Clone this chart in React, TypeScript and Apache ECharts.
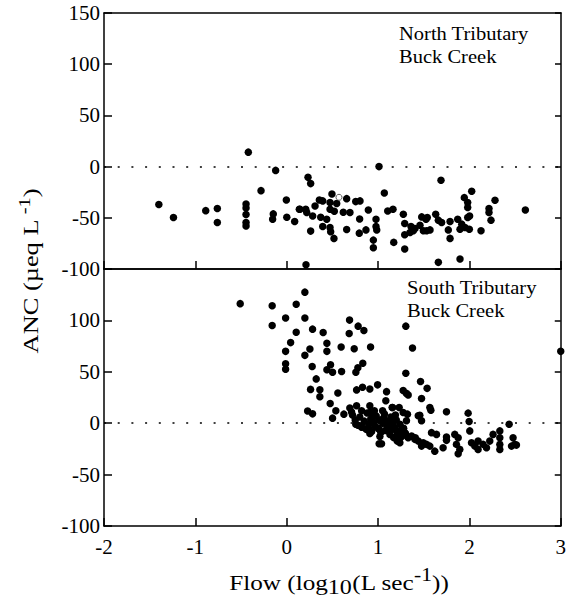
import React, { useEffect, useRef } from "react";
import * as echarts from "echarts";

// x ticks (log10 flow) and y ticks (ANC)
const xTicks = [-2, -1, 0, 1, 2, 3];
const yTicks = [-100, -50, 0, 50, 100, 150];
const panelTitles = ["North Tributary\nBuck Creek", "South Tributary\nBuck Creek"];

// North Tributary: [log10 flow, ANC]
const northPoints: number[][] = [
  [-1.40, -37], [-1.24, -49.7], [-0.887, -43], [-0.76, -41], [-0.76, -54.6],
  [-0.446, -36.5], [-0.446, -40.4], [-0.446, -46.8], [-0.446, -54.6], [-0.446, -57.9],
  [-0.421, 14.1], [-0.282, -23.5], [-0.148, -46.2], [-0.155, -51.4], [-0.122, -3.7],
  [-0.005, -32.6], [0.0, -49.4], [0.086, -53.6], [0.137, -41.6],
  [1.009, 0], [0.232, -10.5], [0.261, -16.6], [1.067, -25.8], [0.494, -26.7],
  [0.655, -31.3], [0.356, -32.6], [0.393, -33.5], [0.754, -34.2], [0.801, -33.5],
  [0.473, -35.1], [0.546, -36.1], [0.309, -38.4], [0.144, -41.6], [0.207, -41.6],
  [0.473, -41.6], [0.52, -43.6], [0.618, -44.6], [0.691, -44.8], [0.892, -42.3],
  [1.104, -43.3], [1.162, -41.6], [0.218, -44.8], [0.283, -48.2], [0.371, -49.4],
  [0.437, -51.4], [0.797, -51.1], [0.976, -51.4], [1.275, -46.5], [0.393, -58.5],
  [0.473, -59.4], [0.48, -63.7], [0.516, -70.1], [0.261, -63], [0.655, -61.4],
  [0.793, -65], [0.866, -61.8], [0.976, -58.5], [0.984, -61.8], [0.947, -71.8],
  [0.947, -79.3], [1.17, -74], [1.29, -55.5], [1.29, -66.6], [1.29, -80.5],
  [1.359, -58.5], [1.403, -60.4], [1.384, -62.7], [1.348, -64.3], [1.457, -57.2],
  [1.523, -51.4], [1.537, -49.7], [1.494, -62.7], [1.53, -62.7], [0.21, -95.8],
  [1.687, -13.4], [2.023, -24.1], [1.942, -30.3], [1.979, -35.1], [1.979, -40],
  [2.278, -32.9], [2.212, -41], [2.212, -44.8], [2.234, -52.3], [2.61, -42.3],
  [2.0, -48.2], [1.979, -49.7], [1.629, -46.5], [1.476, -49.1], [1.658, -52.3],
  [1.694, -54.6], [1.786, -53.6], [1.87, -51.4], [1.914, -56.2], [1.95, -59.4],
  [1.895, -61.1], [1.997, -61.1], [2.125, -62.7], [1.767, -61.8], [1.786, -70.1],
  [1.567, -61.8], [1.658, -93.5], [1.895, -90.3],
];
const northOpenPoints: number[][] = [[0.571, -30]];

// South Tributary: [log10 flow, ANC]
const southPoints: number[][] = [
  [-0.509, 116.3], [-0.159, 114.3], [-0.159, 95.1], [-0.012, 102.3], [-0.012, 69.9],
  [-0.012, 57.8], [-0.012, 52.5], [0.043, 78.4], [0.104, 115.7], [0.104, 88.5],
  [0.199, 127.5], [0.199, 102.3], [0.199, 66], [0.283, 91.5], [0.254, 72.2],
  [0.279, 55.2], [0.323, 43.1], [0.261, 32.9], [0.229, 11.8], [0.283, 9.1],
  [0.399, 88.2], [0.688, 100.3], [0.684, 87.3], [0.782, 94.4], [0.845, 90.2],
  [0.44, 77.7], [0.44, 69.9], [0.596, 74.1], [0.739, 72.5], [0.918, 74.1],
  [0.48, 56.9], [0.44, 52], [0.502, 49.6], [0.601, 50.3], [0.779, 53.9],
  [0.757, 49.6], [0.833, 58.4], [0.363, 32.6], [0.363, 25.8], [0.56, 29.4],
  [0.476, 19.2], [0.765, 32.4], [0.83, 34.9], [0.91, 33.3], [0.995, 37.3],
  [1.093, 30.7], [1.085, 21.9], [0.538, 12.1], [0.502, 4.9], [0.626, 8.8],
  [0.691, 14.7], [0.765, 17], [0.91, 17], [0.91, 10.4], [1.159, 15.3],
  [1.038, -20], [1.239, -19],
  [1.304, 94.4], [1.377, 73.1], [1.304, 48.6], [1.465, 40.5], [1.537, 33.9],
  [1.476, 24.1], [1.567, 15.3], [1.578, 12.7], [1.749, 11.1], [1.986, 9.8],
  [1.997, 1.6], [2.435, -1], [1.311, 29], [1.33, 27.5], [1.275, 31.7],
  [1.154, 15.3], [1.231, 15.3], [1.322, 8.8], [1.457, 7.8], [1.476, 2.3],
  [1.749, -13.4], [1.275, 10.4], [1.311, 2.3], [1.44, 7.2],
  [1.184, -4.3], [1.239, -7.5], [1.293, -9.2], [1.33, -14.1], [1.367, -12.5],
  [1.403, -15.7], [1.44, -17.4], [1.476, -22.3], [1.494, -19], [1.53, -20.6],
  [1.567, -22.3], [1.585, -9.2], [1.64, -10.9], [1.621, -27.2], [1.712, -23.9],
  [1.749, -16.7], [1.84, -10.9], [1.877, -14.1], [1.858, -20.6], [1.895, -25.5],
  [1.877, -29.8], [2.004, -7.5], [2.023, -19], [2.059, -22.3], [2.095, -25.5],
  [2.095, -17.4], [2.15, -20.6], [2.187, -23.9], [2.223, -17.4], [2.259, -10.9],
  [2.333, -7.5], [2.333, -14.1], [2.333, -20.6], [2.333, -25.5], [2.478, -14.1],
  [2.461, -22.3], [2.497, -20.6], [2.515, -21.3],
  [0.756, -1], [0.815, -2.6], [0.894, -4.3], [1.012, -5.9], [1.012, -20],
  [1.131, -7.5], [1.21, -10.8], [1.21, -17.4], [1.408, -14.1],
  [0.72, 8], [0.75, 3], [0.78, -2], [0.80, 6], [0.82, -4], [0.85, 2], [0.87, -6],
  [0.88, 10], [0.90, -1], [0.92, 4], [0.93, -8], [0.95, 1], [0.97, -3], [0.98, 7],
  [1.00, -5], [1.01, 3], [1.03, -9], [1.05, 0], [1.06, 5], [1.08, -7], [1.10, -2],
  [1.11, 2], [1.13, -11], [1.15, -4], [1.16, 1], [1.18, -6], [1.20, 3], [1.22, -8],
  [1.24, -1], [1.26, -13], [1.28, -5], [1.30, -10], [1.19, 8], [1.07, 9], [0.96, 12],
  [1.14, 6], [1.02, -13], [0.91, -10], [1.17, -14], [1.23, -16],
  [0.71, 11], [0.82, 12], [0.95, 10], [1.05, 12],
  [3.0, 69.9],
];

const FONT = "Liberation Serif";
const BLACK = "#000";

export default function App() {
  const ref = useRef<HTMLDivElement>(null);

  useEffect(() => {
    if (!ref.current) return;
    const chart = echarts.init(ref.current, null, { renderer: "svg" });

    const xMin = xTicks[0];
    const xMax = xTicks[xTicks.length - 1];
    const yMin = yTicks[0];
    const yMax = yTicks[yTicks.length - 1];

    const line = { show: true, lineStyle: { color: BLACK, width: 1.5 } };
    const xBottom = (grid: number, labels: boolean) => ({
      type: "value",
      gridIndex: grid,
      position: "bottom",
      min: xMin,
      max: xMax,
      interval: 1,
      axisLine: { ...line, onZero: false },
      axisTick: { show: true, inside: true, length: 8, lineStyle: { color: BLACK, width: 1.5 } },
      axisLabel: {
        show: labels,
        fontFamily: FONT,
        fontSize: 21,
        color: BLACK,
        margin: 10,
      },
      splitLine: { show: false },
    });
    const xTop = (grid: number) => ({
      type: "value",
      gridIndex: grid,
      position: "top",
      min: xMin,
      max: xMax,
      interval: 1,
      axisLine: { ...line, onZero: false },
      axisTick: { show: false },
      axisLabel: { show: false },
      splitLine: { show: false },
    });
    const yLeft = (grid: number, hideTop: boolean) => ({
      type: "value",
      gridIndex: grid,
      position: "left",
      min: yMin,
      max: yMax,
      interval: 50,
      axisLine: { ...line, onZero: false },
      axisTick: { show: true, inside: true, length: 8, lineStyle: { color: BLACK, width: 1.5 } },
      axisLabel: {
        show: true,
        fontFamily: FONT,
        fontSize: 21,
        color: BLACK,
        margin: 4,
        formatter: (v: number) => (hideTop && v === yMax ? "" : String(v)),
      },
      splitLine: { show: false },
    });
    const yRight = (grid: number) => ({
      type: "value",
      gridIndex: grid,
      position: "right",
      min: yMin,
      max: yMax,
      interval: 50,
      axisLine: { ...line, onZero: false },
      axisTick: { show: true, inside: true, length: 6, lineStyle: { color: BLACK, width: 1.5 } },
      axisLabel: { show: false },
      splitLine: { show: false },
    });

    const zeroLine = {
      silent: true,
      symbol: "none",
      label: { show: false },
      lineStyle: { color: BLACK, width: 1.6, type: [2, 11.7] },
      data: [{ yAxis: 0 }],
    };

    chart.setOption({
      animation: false,
      grid: [
        { left: 104, top: 13, width: 457, height: 256 },
        { left: 104, top: 269, width: 457, height: 257 },
      ],
      xAxis: [xBottom(0, false), xTop(0), xBottom(1, true), xTop(1)],
      yAxis: [yLeft(0, false), yRight(0), yLeft(1, true), yRight(1)],
      series: [
        {
          type: "scatter",
          xAxisIndex: 0,
          yAxisIndex: 0,
          symbolSize: 7.5,
          itemStyle: { color: BLACK, opacity: 1 },
          data: northPoints,
          markLine: zeroLine,
        },
        {
          type: "scatter",
          xAxisIndex: 0,
          yAxisIndex: 0,
          symbolSize: 6,
          itemStyle: { color: "#fff", borderColor: "#333", borderWidth: 1 },
          data: northOpenPoints,
        },
        {
          type: "scatter",
          xAxisIndex: 2,
          yAxisIndex: 2,
          symbolSize: 7.5,
          itemStyle: { color: BLACK, opacity: 1 },
          data: southPoints,
          markLine: zeroLine,
        },
      ],
      graphic: [
        {
          type: "text",
          x: 399,
          y: 22,
          scaleX: 1.14,
          style: {
            text: panelTitles[0],
            fontFamily: FONT,
            fontSize: 18,
            lineHeight: 23,
            fill: BLACK,
            align: "left",
            verticalAlign: "top",
          },
        },
        {
          type: "text",
          x: 407,
          y: 276,
          scaleX: 1.14,
          style: {
            text: panelTitles[1],
            fontFamily: FONT,
            fontSize: 18,
            lineHeight: 23,
            fill: BLACK,
            align: "left",
            verticalAlign: "top",
          },
        },
        {
          type: "text",
          x: 339,
          y: 583,
          scaleX: 1.2,
          style: {
            text: "{m|Flow (log}{sub|10}{m|(L sec}{sup|-1}{m|))}",
            fontFamily: FONT,
            fontSize: 21,
            fill: BLACK,
            align: "center",
            verticalAlign: "middle",
            rich: {
              m: { fontFamily: FONT, fontSize: 21, fill: BLACK },
              sub: { fontFamily: FONT, fontSize: 20, fill: BLACK, padding: [9, 0, 0, 0] },
              sup: { fontFamily: FONT, fontSize: 18, fill: BLACK, padding: [0, 0, 17, 0] },
            },
          },
        },
        {
          type: "text",
          x: 30,
          y: 271,
          rotation: Math.PI / 2,
          scaleX: 1.2,
          style: {
            text: "{m|ANC (µeq L}{sup| -1}{m|)}",
            fontFamily: FONT,
            fontSize: 22,
            fill: BLACK,
            align: "center",
            verticalAlign: "middle",
            rich: {
              m: { fontFamily: FONT, fontSize: 22, fill: BLACK },
              sup: { fontFamily: FONT, fontSize: 17, fill: BLACK, padding: [0, 0, 12, 0] },
            },
          },
        },
      ],
    });

    return () => chart.dispose();
  }, []);

  return (
    <div
      ref={ref}
      style={{ position: "fixed", left: 0, top: 0, width: 569, height: 599, background: "#fff" }}
    />
  );
}
